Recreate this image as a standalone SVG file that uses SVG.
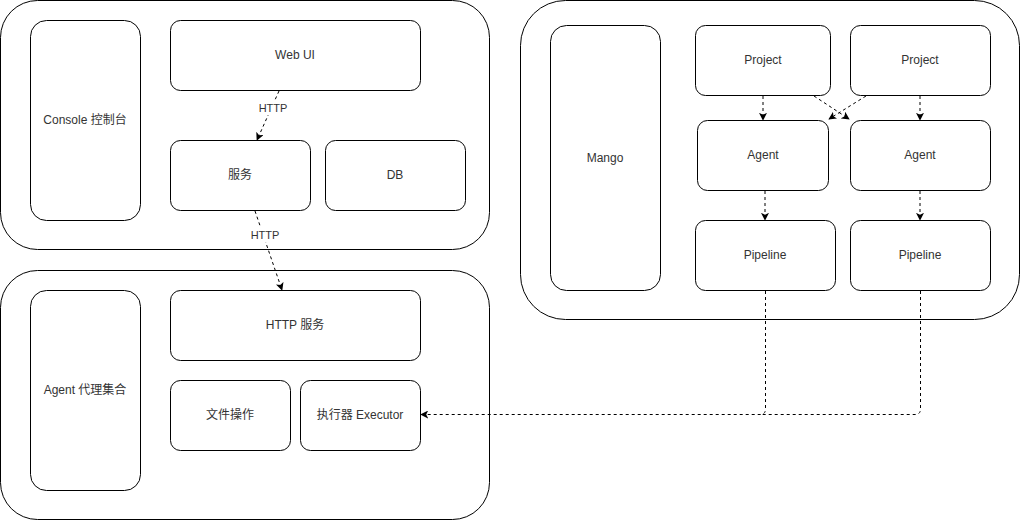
<svg xmlns="http://www.w3.org/2000/svg" width="1021" height="521" viewBox="0 0 1021 521">
<style>
.c{fill:#fff;stroke:#000;stroke-width:1}
.t{font-family:"Liberation Sans","Noto Sans CJK SC",sans-serif;font-size:12px;fill:#333;text-anchor:middle;dominant-baseline:central}
.e{fill:none;stroke:#000;stroke-width:1;stroke-dasharray:3 3}
.lb{fill:#fff}
</style>
<defs>
<marker id="a" viewBox="0 0 10 10" refX="9" refY="5" markerWidth="8" markerHeight="8" markerUnits="userSpaceOnUse" orient="auto">
<path d="M0,0 L10,5 L0,10 L2.5,5 Z" fill="#000"/>
</marker>
</defs>
<rect width="1021" height="521" fill="#fff"/>
<g id="console-group"><rect class="c" x="0.5" y="0.5" width="489" height="249" rx="37"/></g>
<g id="agent-group"><rect class="c" x="0.5" y="270.5" width="489" height="249" rx="37"/></g>
<g id="mango-group"><rect class="c" x="520.5" y="0.5" width="499" height="319" rx="45"/></g>
<g id="console"><rect class="c" x="30.5" y="20.5" width="110" height="200" rx="16"/><text class="t" x="85" y="120">Console 控制台</text></g>
<g id="webui"><rect class="c" x="170.5" y="20.5" width="250" height="70" rx="10"/><text class="t" x="295" y="55">Web UI</text></g>
<g id="service"><rect class="c" x="170.5" y="140.5" width="140" height="70" rx="10"/><text class="t" x="240" y="175">服务</text></g>
<g id="db"><rect class="c" x="325.5" y="140.5" width="140" height="70" rx="10"/><text class="t" x="395" y="175">DB</text></g>
<g id="agent-set"><rect class="c" x="30.5" y="290.5" width="110" height="200" rx="16"/><text class="t" x="85" y="390">Agent 代理集合</text></g>
<g id="http-service"><rect class="c" x="170.5" y="290.5" width="250" height="70" rx="10"/><text class="t" x="295" y="325">HTTP 服务</text></g>
<g id="file-op"><rect class="c" x="170.5" y="380.5" width="120" height="70" rx="10"/><text class="t" x="230" y="415">文件操作</text></g>
<g id="executor"><rect class="c" x="300.5" y="380.5" width="120" height="70" rx="10"/><text class="t" x="360" y="415">执行器 Executor</text></g>
<g id="mango"><rect class="c" x="550.5" y="25.5" width="110" height="265" rx="16"/><text class="t" x="605" y="158">Mango</text></g>
<g id="project1"><rect class="c" x="695.5" y="25.5" width="135" height="70" rx="10"/><text class="t" x="763" y="60">Project</text></g>
<g id="project2"><rect class="c" x="850.5" y="25.5" width="140" height="70" rx="10"/><text class="t" x="920" y="60">Project</text></g>
<g id="agent1"><rect class="c" x="697.5" y="120.5" width="131" height="70" rx="10"/><text class="t" x="763" y="155">Agent</text></g>
<g id="agent2"><rect class="c" x="850.5" y="120.5" width="140" height="70" rx="10"/><text class="t" x="920" y="155">Agent</text></g>
<g id="pipeline1"><rect class="c" x="695.5" y="220.5" width="140" height="70" rx="10"/><text class="t" x="765" y="255">Pipeline</text></g>
<g id="pipeline2"><rect class="c" x="850.5" y="220.5" width="140" height="70" rx="10"/><text class="t" x="920" y="255">Pipeline</text></g>
<g id="connectors">
<path class="e" d="M279,91 L257,140" marker-end="url(#a)"/>
<rect class="lb" x="258" y="101" width="31" height="14"/>
<text class="t" x="273" y="108" style="font-size:11px">HTTP</text>
<path class="e" d="M255,211 L282,290" marker-end="url(#a)"/>
<rect class="lb" x="250" y="228" width="31" height="14"/>
<text class="t" x="265" y="235" style="font-size:11px">HTTP</text>
<path class="e" d="M763,96 L763,120" marker-end="url(#a)"/>
<path class="e" d="M920,96 L920,120" marker-end="url(#a)"/>
<path class="e" d="M814,96 L849,119" marker-end="url(#a)"/>
<path class="e" d="M866,96 L829,119" marker-end="url(#a)"/>
<path class="e" d="M765,191 L765,220" marker-end="url(#a)"/>
<path class="e" d="M920,191 L920,220" marker-end="url(#a)"/>
<path class="e" d="M765.5,291 L765.5,409 Q765.5,414.5 760,414.5 L421,414.5" marker-end="url(#a)"/>
<path class="e" d="M920.5,291 L920.5,409 Q920.5,414.5 915,414.5 L760,414.5"/>
</g>
</svg>
